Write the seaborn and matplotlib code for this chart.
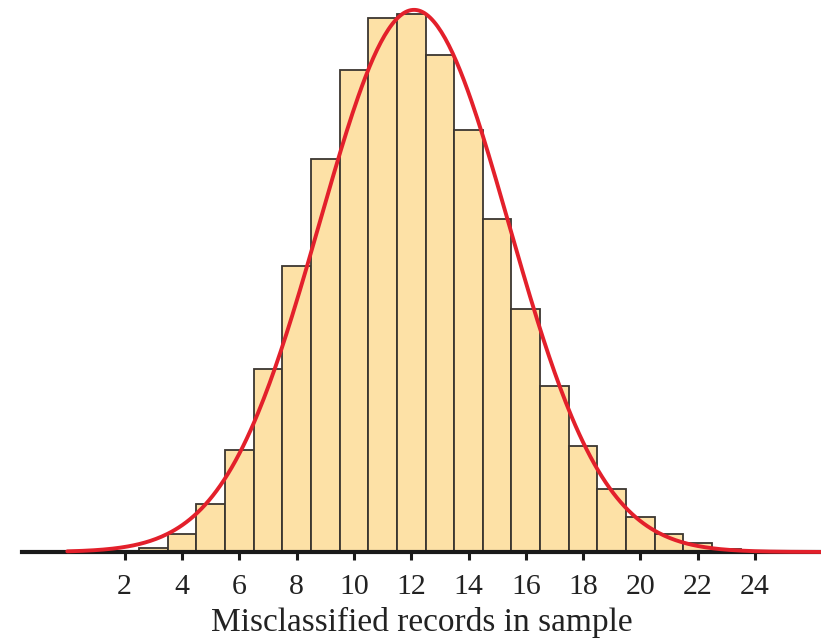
import numpy as np
import pandas as pd
import matplotlib
matplotlib.use("Agg")
import matplotlib.pyplot as plt
import seaborn as sns

# Number of misclassified records per sample and how often each occurred
misclassified = [3, 4, 5, 6, 7, 8, 9, 10, 11, 12, 13, 14, 15, 16, 17, 18, 19, 20, 21, 22, 23, 24]
frequency = [4, 18, 48, 102, 183, 286, 393, 482, 534, 538, 497, 422, 333, 243, 166, 106, 63, 35, 18, 9, 3, 1.5]

# Normal approximation drawn over the histogram
curve_mean = 12.1
curve_sd = 3.3
curve_start, curve_end = 0.0, 26.3

tick_values = [2, 4, 6, 8, 10, 12, 14, 16, 18, 20, 22, 24]
x_label = "Misclassified records in sample"

sns.set_theme(style="white")
plt.rcParams["font.family"] = ["Liberation Serif", "DejaVu Serif"]

df = pd.DataFrame({"misclassified": misclassified, "frequency": frequency})

fig = plt.figure(figsize=(8.21, 6.43), dpi=100)
ax = fig.add_axes([22 / 821, (643 - 552) / 643, 1 - 22 / 821, 552 / 643])

sns.histplot(
    data=df, x="misclassified", weights="frequency", discrete=True,
    color="#FDE1A6", alpha=1.0, edgecolor="#3b3630", linewidth=1.3, ax=ax,
)

total = float(np.sum(frequency))
xs = np.linspace(curve_start, curve_end, 400)
ys = total / (curve_sd * np.sqrt(2 * np.pi)) * np.exp(-0.5 * ((xs - curve_mean) / curve_sd) ** 2)
sns.lineplot(x=xs, y=ys, color="#E3202B", linewidth=2.8, ax=ax, clip_on=False)

ax.set_xlim(-1.58, 26.3)
ax.set_ylim(0, 552)

for side in ["left", "right", "top"]:
    ax.spines[side].set_visible(False)
ax.spines["bottom"].set_color("#1a1a1a")
ax.spines["bottom"].set_linewidth(3)
ax.spines["bottom"].set_zorder(1)

ax.set_yticks([])
ax.set_xticks(tick_values)
ax.set_xticklabels([str(v) for v in tick_values])
ax.tick_params(axis="x", direction="out", length=6, width=2.2, color="#1a1a1a",
               labelsize=21.5, labelcolor="#222222", pad=10, bottom=True)
ax.set_xlabel(x_label, fontsize=24, color="#222222", labelpad=5)
ax.set_ylabel("")

fig.savefig("out.png", dpi=100)
